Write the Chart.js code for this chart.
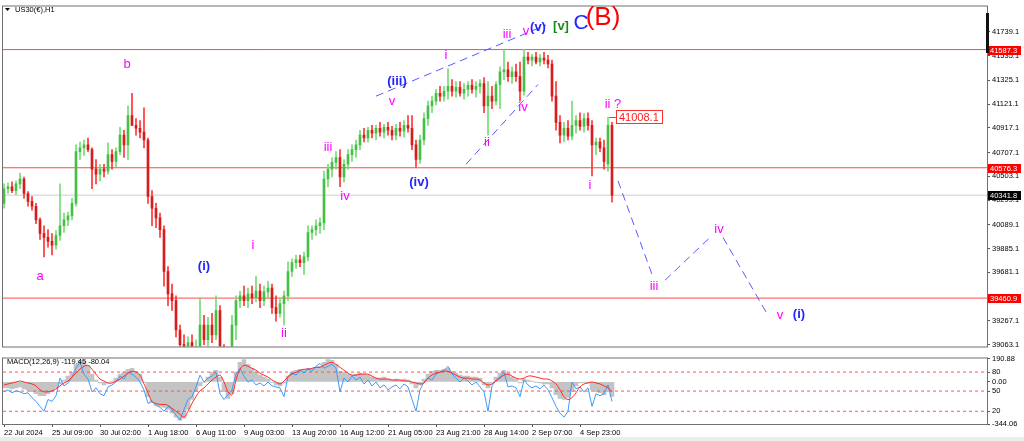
<!DOCTYPE html>
<html><head><meta charset="utf-8">
<script src="https://cdn.jsdelivr.net/npm/chart.js@4.4.1/dist/chart.umd.min.js"></script>
<style>
html,body{margin:0;padding:0;background:#fff;width:1024px;height:441px;overflow:hidden;}
#main{position:absolute;left:0;top:0;}
#macd{position:absolute;left:0;top:352px;}
#foot{position:absolute;left:0;top:437px;width:1024px;height:4px;background:#ececec;}
</style></head><body>
<canvas id="main" width="1024" height="353"></canvas>
<canvas id="macd" width="1024" height="89"></canvas>
<div id="foot"></div>
<script>
// ---------------- DATA ----------------
const symbolTitle = 'US30(€),H1';
const open = [
40272,40397,40414,40381,40439,40480,40356,40289,40247,40130,
40014,39980,39947,39914,39997,40080,40130,40164,40272,40714,
40747,40772,40731,40564,40522,40564,40547,40689,40631,40714,
40856,40772,41022,40939,40914,40881,40814,40330,40230,40147,
40047,39689,39497,39439,39188,39063,38997,39080,39021,39047,
39230,39105,39230,39147,39355,39047,38938,38980,39230,39439,
39480,39439,39497,39464,39522,39439,39514,39547,39380,39330,
39414,39480,39689,39764,39789,39764,39814,40022,40047,40080,
40105,40480,40564,40622,40664,40497,40606,40689,40731,40772,
40856,40831,40897,40872,40914,40881,40922,40897,40856,40914,
40889,40939,40914,40772,40647,40814,40997,41106,41147,41214,
41189,41231,41272,41231,41264,41214,41247,41281,41247,41272,
41297,41106,41189,41147,41289,41397,41414,41356,41397,41356,
41231,41523,41497,41523,41481,41514,41497,41464,41189,40964,
40856,40914,40847,40939,40981,40931,40997,40939,40772,40797,
40747,40606,40939];
const high = [
40439,40447,40456,40464,40531,40497,40372,40330,40272,40147,
40080,40047,40014,40039,40439,40189,40197,40314,40772,40797,
40814,40831,40747,40647,40606,40606,40789,40731,40747,40922,
40897,41106,41214,40997,40981,41089,40831,40381,40272,40189,
40080,39730,39580,39480,39230,39147,39130,39147,39105,39464,
39313,39297,39330,39480,39397,39063,39021,39313,39480,39522,
39563,39547,39563,39647,39580,39563,39605,39580,39480,39464,
39522,39772,39797,39830,39830,39855,40080,40080,40130,40147,
40547,40606,40664,40714,40731,40647,40731,40772,40814,40897,
40914,40922,40939,40939,40964,40947,40964,40931,40947,40964,
40981,41022,41022,40814,40856,41047,41147,41189,41247,41272,
41272,41422,41331,41314,41314,41297,41314,41331,41314,41331,
41347,41314,41272,41314,41439,41589,41481,41439,41464,41481,
41589,41564,41547,41564,41547,41564,41539,41497,41314,41022,
40964,40981,41147,41022,41047,41039,41047,40981,40831,40831,
40814,41008.1,40964];
const low = [
40230,40356,40364,40347,40397,40314,40247,40214,40097,39964,
39814,39897,39830,39880,39955,40022,40080,40130,40247,40647,
40681,40714,40397,40439,40464,40497,40522,40564,40581,40689,
40664,40647,40939,40856,40831,40747,40272,40080,40064,39980,
39563,39397,39355,39130,38980,38930,38947,38963,38913,39013,
39063,39047,39080,39105,38997,38880,38896,38938,39105,39380,
39397,39380,39414,39430,39380,39397,39464,39330,39264,39297,
39230,39439,39647,39714,39730,39664,39780,39964,39997,40014,
40047,40414,40497,40564,40414,40456,40564,40631,40664,40731,
40797,40797,40831,40814,40847,40831,40856,40814,40814,40847,
40839,40881,40731,40581,40614,40772,40939,41047,41114,41147,
41147,41164,41189,41181,41189,41164,41189,41214,41181,41214,
41047,40856,41081,41114,41081,41331,41314,41297,41314,41147,
41197,41464,41447,41464,41447,41464,41431,41147,40897,40789,
40797,40814,40814,40872,40897,40881,40897,40506,40689,40714,
40564,40547,40281];
const close = [
40397,40414,40381,40439,40480,40356,40289,40247,40130,40014,
39980,39947,39914,39997,40080,40130,40164,40272,40714,40747,
40772,40731,40564,40522,40564,40547,40689,40631,40714,40856,
40772,41022,40939,40914,40881,40814,40330,40230,40147,40047,
39689,39497,39439,39188,39063,38997,39080,39021,39047,39230,
39105,39230,39147,39355,39047,38938,38980,39230,39439,39480,
39439,39497,39464,39522,39439,39514,39547,39380,39330,39414,
39480,39689,39764,39789,39764,39814,40022,40047,40080,40105,
40480,40564,40622,40664,40497,40606,40689,40731,40772,40856,
40831,40897,40872,40914,40881,40922,40897,40856,40914,40889,
40939,40914,40772,40647,40814,40997,41106,41147,41214,41189,
41231,41272,41231,41264,41214,41247,41281,41247,41272,41297,
41106,41189,41147,41289,41397,41414,41356,41397,41356,41231,
41523,41497,41523,41481,41514,41497,41464,41189,40964,40856,
40914,40847,40939,40981,40931,40997,40939,40772,40797,40747,
40631,40939,40341.8];

const macdMain = [
-49,-49,-57,-49,-41,-57,-65,-81,-97,-113,
-113,-97,-81,-49,-17,15,47,79,143,175,
167,135,63,15,-9,-25,-9,7,31,63,
79,103,111,87,63,-1,-121,-168,-192,-200,
-208,-224,-256,-288,-312,-296,-224,-144,-81,-33,
-1,39,79,95,39,-81,-136,-97,79,159,
183,143,111,79,55,39,23,-1,-25,-33,
-9,47,79,95,103,95,111,111,119,127,
159,183,175,143,87,79,63,55,63,71,
63,55,39,31,31,39,23,15,23,15,
23,15,-17,-49,-25,23,63,87,95,95,
103,111,87,71,55,47,47,39,39,31,
-25,-49,-9,39,71,95,71,39,23,-9,
23,15,7,-1,-9,-17,-17,-49,-105,-136,
-144,-128,-81,-33,-9,-1,-9,-65,-81,-89,
-105,-81,-119.45];
const macdSignal = [
-25,-17,-9,-1,7,-1,-9,-17,-33,-65,
-81,-81,-73,-57,-33,-9,7,39,71,103,
127,135,103,63,23,7,-9,-9,7,23,
47,71,87,79,55,-17,-89,-160,-176,-184,
-184,-192,-216,-240,-264,-288,-240,-176,-121,-73,
-49,-17,15,39,55,-1,-81,-105,15,103,
135,127,111,95,71,55,39,15,-1,-17,
7,39,63,79,95,103,103,111,119,119,
135,151,159,143,119,95,71,55,55,63,
63,63,47,31,23,23,23,15,15,15,
7,7,-1,-9,-17,-9,31,55,71,79,
87,87,71,55,39,31,31,23,23,15,
-9,-25,-17,7,31,55,63,47,31,23,
31,47,47,39,31,23,23,7,-17,-65,
-121,-144,-128,-89,-41,-17,-9,-1,-9,-17,
-33,-49,-80.04];
const macdFast = [
-81,-65,-89,-73,-81,-97,-89,-129,-160,-200,
-240,-144,-160,-113,31,-33,-9,39,111,159,
63,23,-81,-49,-97,-113,-41,-25,-1,47,
23,79,63,39,-1,-65,-176,-160,-192,-208,
-240,-200,-224,-272,-312,-224,-144,-121,-41,55,
-1,31,47,79,-97,-144,-105,-65,63,111,
47,-1,15,-25,-9,-33,-1,-33,-41,-49,
-121,47,71,55,95,71,111,87,127,151,
111,127,143,111,-81,31,-1,47,15,39,
-17,15,-33,-1,-49,-25,-65,-41,-25,-57,
-17,-41,-144,-240,-65,-1,31,15,63,79,
95,127,63,31,-1,31,7,-25,-1,-41,
-81,-240,-33,15,39,79,-41,-33,-49,-121,
15,-25,-49,-33,-57,-25,-65,-129,-200,-256,
-288,-240,-1,-57,-41,-81,-49,-200,-97,-113,
-97,-25,-160];
const macdHeader = 'MACD(12,26,9) -119.45 -80.04';

const xTickIndex = [0,12,24,36,48,60,72,84,96,108,120,132,144];
const xTickLabels = ['22 Jul 2024','25 Jul 09:00','30 Jul 02:00','1 Aug 18:00','6 Aug 11:00','9 Aug 03:00','13 Aug 20:00','16 Aug 12:00','21 Aug 05:00','23 Aug 21:00','28 Aug 14:00','2 Sep 07:00','4 Sep 23:00'];
const priceTicks = [41739.1,41535.1,41325.1,41121.1,40917.1,40707.1,40503.1,40299.1,40089.1,39885.1,39681.1,39267.1,39063.1];
const levelLines = [41587.3,40576.3,39460.9];
const lastPrice = 40341.8;
const markedHighIndex = 151;
const markedHigh = 41008.1;

const macdTickValues = [190.88,80,0,-75,-240,-344.06];
const macdTickLabels = ['190.88','80','0.00','50','20','-344.06'];
const macdLevels = [80,-75,-240];

// Elliott wave labels (bar index, price)
const waveText   = ['a','b','(i)','i','ii','iii','iv','v','(iii)','(iv)','i','ii','iii','iv','v','(v)','[v]','C','(B)','ii ?','i','iii','iv','v','(i)'];
const waveIndex  = [9,30.75,50,62.25,70,81,85.25,97,98.25,103.75,110.5,120.75,125.75,129.75,130.5,133.5,139.25,144.25,149.75,152.25,146.5,162.5,178.75,194,198.75];
const wavePrice  = [39647,41464,39730,39914,39155,40747,40330,41147,41314,40447,41539,40789,41714,41089,41747,41781,41789,41814,41856,41122,40422,39563,40047,39313,39322];
const waveDegree = ['sub','sub','minuette','sub','sub','sub','sub','sub','minuette','minuette','sub','sub','sub','sub','sub','minuette','minute','minor','intermediate','sub','sub','sub','sub','sub','minuette'];

// trend lines & projection (bar index, price)
const trendUpperIdx = [93,135.5],   trendUpperPx = [41189,41798];
const trendLowerIdx = [115.5,133.5], trendLowerPx = [40606,41289];
const proj1Idx = [153.5,162],   proj1Px = [40464,39664];
const proj2Idx = [165.25,176.5], proj2Px = [39614,39980];
const proj3Idx = [179.75,191],  proj3Px = [39980,39313];

// ---------------- RENDER ----------------
const FONT = "'Liberation Sans', Arial, sans-serif";
Chart.defaults.font.family = FONT;
Chart.defaults.font.size = 7.5;
Chart.defaults.color = '#000';

const X_MIN = -0.25, X_MAX = 245.75;
const Y_MIN = 39047, Y_MAX = 41956;
const N = close.length;
const idx = Array.from({length:N}, (_, i) => i);
const isUp = idx.map(i => close[i] >= open[i]);

const degreeStyle = {
  sub:{color:'#ff00ff', font:'13px '+FONT},
  minuette:{color:'#2424ff', font:'bold 13px '+FONT},
  minute:{color:'#1a8a1a', font:'bold 13px '+FONT},
  minor:{color:'#2424ff', font:'21px '+FONT},
  intermediate:{color:'#ff0000', font:'26px '+FONT}
};

const hline = (v, color, order) => ({type:'line', data:[{x:X_MIN,y:v},{x:X_MAX,y:v}], borderColor:color, borderWidth:1, pointRadius:0, order:order, clip:0});
const dashLine = (xs, ys) => ({type:'line', data:xs.map((x,k)=>({x:x,y:ys[k]})), borderColor:'#5a5aff', borderWidth:1, borderDash:[8,5], pointRadius:0, order:0, clip:0});

const framePlugin = {
  id:'frame',
  afterDraw(chart){
    const {ctx, chartArea:a} = chart;
    ctx.save();
    ctx.strokeStyle = '#707070'; ctx.lineWidth = 1;
    ctx.strokeRect(a.left-0.5, a.top-0.5, a.right-a.left+1, a.bottom-a.top+1);
    ctx.restore();
  }
};

const mainDecor = {
  id:'mainDecor',
  afterDraw(chart){
    const {ctx} = chart;
    const xs = chart.scales.x, ys = chart.scales.y;
    ctx.save();
    ctx.textAlign = 'center'; ctx.textBaseline = 'middle';
    waveText.forEach((t,k) => {
      const st = degreeStyle[waveDegree[k]];
      ctx.font = st.font; ctx.fillStyle = st.color;
      ctx.fillText(t, xs.getPixelForValue(waveIndex[k]), ys.getPixelForValue(wavePrice[k]));
    });
    const mx = xs.getPixelForValue(markedHighIndex), my = Math.round(ys.getPixelForValue(markedHigh));
    ctx.strokeStyle = '#ff3030'; ctx.lineWidth = 1;
    ctx.beginPath(); ctx.moveTo(mx+1, my+0.5); ctx.lineTo(mx+8, my+0.5); ctx.stroke();
    ctx.fillStyle = '#fff';
    ctx.fillRect(mx+8, my-7, 47, 14);
    ctx.strokeRect(mx+8.5, my-6.5, 46, 13);
    ctx.fillStyle = '#ff2020'; ctx.font = '11px '+FONT; ctx.textAlign = 'left';
    ctx.fillText(markedHigh.toFixed(1), mx+11, my+0.5);
    ctx.font = '7.5px '+FONT; ctx.textBaseline = 'middle';
    const box = (v, bg) => {
      const y = Math.round(ys.getPixelForValue(v));
      ctx.fillStyle = bg; ctx.fillRect(988, y-4, 33, 9);
      ctx.fillStyle = '#fff'; ctx.fillText(v.toFixed(1), 990, y+0.5);
    };
    levelLines.forEach(v => box(v, '#ff0000'));
    box(lastPrice, '#000');
    ctx.fillStyle = '#111'; ctx.fillRect(986, 13, 3, 40);
    ctx.fillStyle = '#000';
    ctx.beginPath(); ctx.moveTo(5,8); ctx.lineTo(10,8); ctx.lineTo(7.5,11); ctx.closePath(); ctx.fill();
    ctx.font = '7.5px '+FONT; ctx.textAlign = 'left';
    ctx.fillText(symbolTitle, 15, 9.5);
    ctx.restore();
  }
};

new Chart(document.getElementById('main'), {
  type:'bar',
  data:{datasets:[
    ...levelLines.map(v => hline(v, '#ff4a4a', 10)),
    hline(lastPrice, '#cdcdcd', 11),
    {type:'bar', data:idx.map(i=>({x:i,y:[low[i],high[i]]})), backgroundColor:isUp.map(u=>u?'#74dc74':'#ff3434'), barThickness:1, grouped:false, order:2, clip:0},
    {type:'bar', data:idx.map(i=>({x:i,y:[open[i],close[i]]})), backgroundColor:isUp.map(u=>u?'#45c045':'#d61c1c'), barThickness:2, minBarLength:1, grouped:false, order:1, clip:0},
    dashLine(trendUpperIdx, trendUpperPx),
    dashLine(trendLowerIdx, trendLowerPx),
    dashLine(proj1Idx, proj1Px),
    dashLine(proj2Idx, proj2Px),
    dashLine(proj3Idx, proj3Px)
  ]},
  options:{
    responsive:false, animation:false, devicePixelRatio:1,
    layout:{padding:{left:3, top:3, right:0, bottom:1}},
    plugins:{legend:{display:false}, tooltip:{enabled:false}},
    scales:{
      x:{type:'linear', min:X_MIN, max:X_MAX, offset:false, display:false},
      y:{position:'right', min:Y_MIN, max:Y_MAX, beginAtZero:false,
         afterFit(s){ s.width = 37; },
         afterBuildTicks(s){ s.ticks = priceTicks.map(v=>({value:v})); },
         ticks:{callback:v=>Number(v).toFixed(1), padding:2, autoSkip:false, font:{size:7.5}, color:'#000'},
         grid:{drawOnChartArea:false, tickLength:3, color:'#555'},
         border:{display:true, color:'#555'}}
    }
  },
  plugins:[framePlugin, mainDecor]
});

const macdDecor = {
  id:'macdDecor',
  afterDraw(chart){
    const {ctx} = chart;
    ctx.save();
    ctx.fillStyle = '#000'; ctx.font = '7.5px '+FONT; ctx.textBaseline = 'middle';
    ctx.fillText(macdHeader, 7, 9.5);
    ctx.restore();
  }
};

new Chart(document.getElementById('macd'), {
  type:'bar',
  data:{datasets:[
    {type:'line', data:idx.map(i=>({x:i,y:macdSignal[i]})), borderColor:'#ff2d2d', borderWidth:1, pointRadius:0, tension:0.4, order:1},
    {type:'line', data:idx.map(i=>({x:i,y:macdFast[i]})), borderColor:'#3c9bff', borderWidth:1, pointRadius:0, tension:0, order:2},
    ...macdLevels.map(v => ({type:'line', data:[{x:X_MIN,y:v},{x:X_MAX,y:v}], borderColor:'#ff5050', borderWidth:1, borderDash:[3,3], pointRadius:0, order:2.5})),
    {type:'bar', data:idx.map(i=>({x:i,y:macdMain[i]})), backgroundColor:'#c4c4c4', barPercentage:1, categoryPercentage:1, grouped:false, order:3}
  ]},
  options:{
    responsive:false, animation:false, devicePixelRatio:1,
    layout:{padding:{left:3, top:4, right:0, bottom:0}},
    plugins:{legend:{display:false}, tooltip:{enabled:false}},
    scales:{
      x:{type:'linear', min:X_MIN, max:X_MAX, offset:false, position:'bottom',
         afterFit(s){ s.height = 17; },
         afterBuildTicks(s){ s.ticks = xTickIndex.map(v=>({value:v})); },
         ticks:{callback:(v,i)=>xTickLabels[i], align:'start', maxRotation:0, minRotation:0, autoSkip:false, padding:1, font:{size:7.5}, color:'#000'},
         grid:{drawOnChartArea:false, tickLength:3, color:'#555', offset:false},
         border:{display:true, color:'#555'}},
      y:{position:'right', min:-344.06, max:190.88, beginAtZero:false,
         afterFit(s){ s.width = 37; },
         afterBuildTicks(s){ s.ticks = macdTickValues.map(v=>({value:v})); },
         ticks:{callback:(v,i)=>macdTickLabels[i], padding:2, autoSkip:false, font:{size:7.5}, color:'#000'},
         grid:{drawOnChartArea:false, tickLength:3, color:'#555'},
         border:{display:true, color:'#555'}}
    }
  },
  plugins:[framePlugin, macdDecor]
});
</script>
</body></html>
